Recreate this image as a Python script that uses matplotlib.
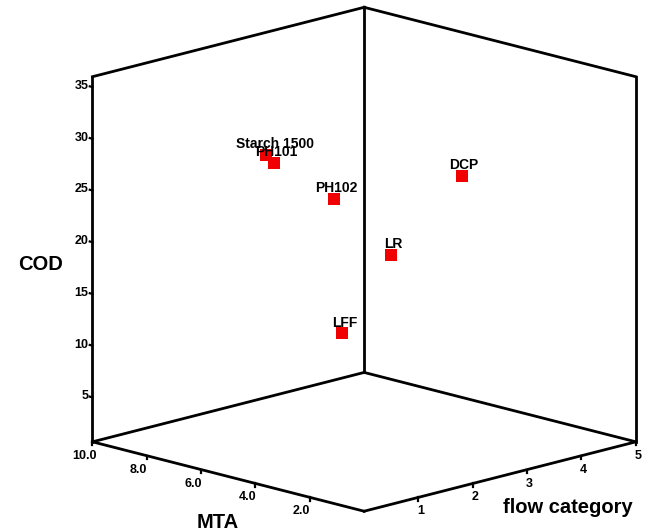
import numpy as np
import matplotlib
matplotlib.use("Agg")
import matplotlib.pyplot as plt

# ---------------- data ----------------
names = ["Starch 1500", "PH101", "PH102", "LFF", "LR", "DCP"]
flow = [2, 2, 2, 2, 3, 4]
mta = [7.6, 7.3, 5.1, 4.8, 5.0, 4.4]
cod = [27.4, 26.8, 24.8, 12.0, 18.1, 24.8]

flow_ticks = [1, 2, 3, 4, 5]
flow_ticklabels = ["1", "2", "3", "4", "5"]
mta_ticks = [2, 4, 6, 8, 10]
mta_ticklabels = ["2.0", "4.0", "6.0", "8.0", "10.0"]
cod_ticks = [5, 10, 15, 20, 25, 30, 35]
cod_ticklabels = ["5", "10", "15", "20", "25", "30", "35"]

flow_lim = (0, 5)
mta_lim = (0, 10)
cod_lim = (0.7, 36)

# ---------------- figure ----------------
plt.rcParams["font.family"] = ["Liberation Sans", "DejaVu Sans"]
W, H = 655, 531
fig = plt.figure(figsize=(W / 100, H / 100), dpi=100)
fig.patch.set_facecolor("white")
ax = fig.add_axes([0, 0, 1, 1], projection="3d", proj_type="ortho",
                  computed_zorder=False)
ax.set_xlim(*flow_lim)
ax.set_ylim(*mta_lim)
ax.set_zlim(*cod_lim)
ax.set_box_aspect((1, 1, 0.983))
ax.view_init(elev=14.8, azim=-135)
ax.set_axis_off()

x0, x1 = flow_lim
y0, y1 = mta_lim
z0, z1 = cod_lim

fig.canvas.draw()


def proj2d(x, y, z):
    M = ax.get_proj()
    v = M @ np.array([x, y, z, 1.0])
    return v[0] / v[3], v[1] / v[3]


def to_px(x, y, z):
    return ax.transData.transform(proj2d(x, y, z))


# ---- fit the projected box into the target frame (layout only) ----
corners = [(x0, y0, z0), (x0, y1, z0), (x1, y0, z0), (x0, y1, z1),
           (x1, y1, z1), (x1, y0, z1), (x1, y1, z0)]
targets_img = [(363, 512), (93, 443), (636, 442), (95, 76),
               (363, 7), (636, 76), (363, 372)]
pos = ax.get_position()
S0 = pos.width * W
c0 = np.array([(pos.x0 + pos.width / 2) * W, (pos.y0 + pos.height / 2) * H])
rows, rhs = [], []
for c, t in zip(corners, targets_img):
    q = (to_px(*c) - c0) / S0
    rows.append([q[0], 1, 0]); rhs.append(t[0])
    rows.append([q[1], 0, 1]); rhs.append(H - t[1])
sol, *_ = np.linalg.lstsq(np.array(rows), np.array(rhs), rcond=None)
S, cx, cy = sol
ax.set_position([(cx - S / 2) / W, (cy - S / 2) / H, S / W, S / H])
fig.canvas.draw()

# ---------------- box edges ----------------
edges = [
    ((x0, y1, z0), (x0, y1, z1)),
    ((x1, y1, z0), (x1, y1, z1)),
    ((x1, y0, z0), (x1, y0, z1)),
    ((x0, y1, z1), (x1, y1, z1)),
    ((x1, y1, z1), (x1, y0, z1)),
    ((x0, y1, z0), (x1, y1, z0)),
    ((x1, y1, z0), (x1, y0, z0)),
    ((x0, y0, z0), (x1, y0, z0)),
    ((x0, y0, z0), (x0, y1, z0)),
]
for a, b in edges:
    ax.plot([a[0], b[0]], [a[1], b[1]], [a[2], b[2]], color="black",
            lw=2.0, solid_capstyle="projecting", solid_joinstyle="miter",
            clip_on=False, zorder=1)

# ---------------- ticks ----------------
for m in mta_ticks:
    ax.plot([x0, x0], [m, m], [z0, z0 - 0.35], color="black", lw=1.6,
            clip_on=False, zorder=1)
for f in flow_ticks:
    ax.plot([f, f], [y0, y0], [z0, z0 - 0.35], color="black", lw=1.6,
            clip_on=False, zorder=1)
for v in cod_ticks:
    ax.plot([x0, x0], [y1, y1 + 0.1], [v, v], color="black", lw=1.6,
            clip_on=False, zorder=1)


def label3d(x, y, z, s, dx, dy, **kw):
    ax.annotate(s, xy=proj2d(x, y, z), xycoords="data",
                xytext=(dx, dy), textcoords="offset pixels",
                annotation_clip=False, **kw)


tick_font = dict(fontsize=9, fontweight="bold", color="black")
for v, lab in zip(cod_ticks, cod_ticklabels):
    label3d(x0, y1, v, lab, -4, 1, ha="right", va="center", **tick_font)
for m, lab in zip(mta_ticks, mta_ticklabels):
    label3d(x0, m, z0, lab, -8, -14, ha="center", va="center", **tick_font)
for f, lab in zip(flow_ticks, flow_ticklabels):
    label3d(f, y0, z0, lab, 2, -14, ha="center", va="center", **tick_font)

# ---------------- points ----------------
ax.plot(flow, mta, cod, linestyle="none", marker="s", markersize=9,
        markerfacecolor="#f00000", markeredgewidth=0, clip_on=False,
        zorder=2)

label_dx = {"Starch 1500": 9}
for n, f, m, c in zip(names, flow, mta, cod):
    label3d(f, m, c, n, label_dx.get(n, 2), 6.5, ha="center",
            va="baseline", fontsize=10, fontweight="bold", color="black",
            zorder=3)

# ---------------- axis titles ----------------
title_font = dict(fontsize=14.5, fontweight="bold", color="black")
fig.text(40.5 / W, 1 - 269.5 / H, "COD", ha="center", va="baseline",
         **title_font)
fig.text(218 / W, 1 - 528 / H, "MTA", ha="center", va="baseline",
         **title_font)
fig.text(568 / W, 1 - 513 / H, "flow category", ha="center",
         va="baseline", **title_font)

fig.savefig("out.png", dpi=100, facecolor="white")
